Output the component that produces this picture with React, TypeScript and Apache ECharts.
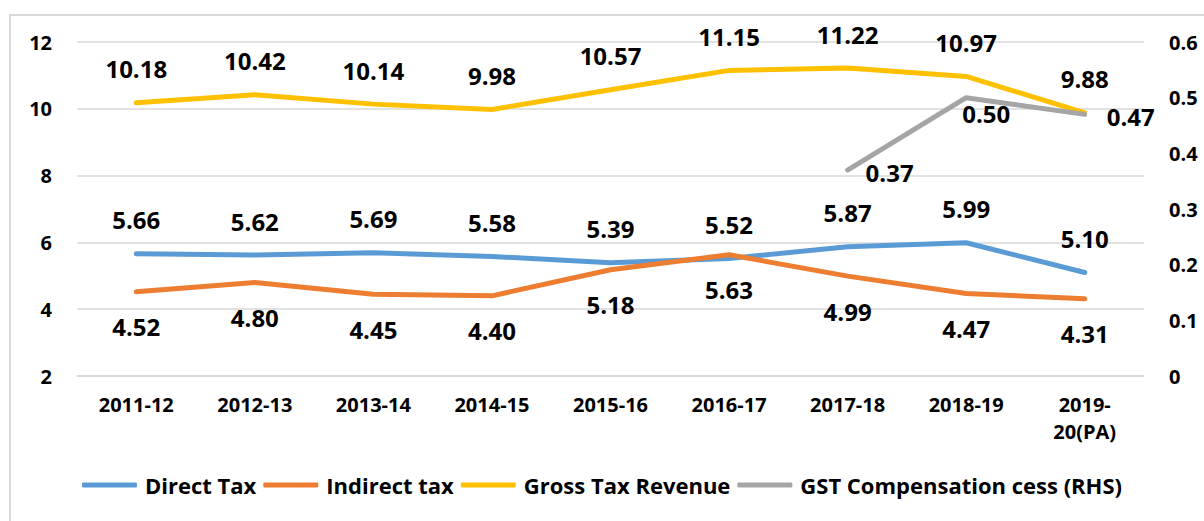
import React, { useEffect, useRef } from "react";
import * as echarts from "echarts";

const categories = ["2011-12", "2012-13", "2013-14", "2014-15", "2015-16", "2016-17", "2017-18", "2018-19", "2019-\n20(PA)"];
const directTax = [5.66, 5.62, 5.69, 5.58, 5.39, 5.52, 5.87, 5.99, 5.10];
const indirectTax = [4.52, 4.80, 4.45, 4.40, 5.18, 5.63, 4.99, 4.47, 4.31];
const grossTax = [10.18, 10.42, 10.14, 9.98, 10.57, 11.15, 11.22, 10.97, 9.88];
const gstCess: (number | null)[] = [null, null, null, null, null, null, 0.37, 0.50, 0.47];
const leftTicks = { min: 2, max: 12, interval: 2 };
const rightTicks = { min: 0, max: 0.6, interval: 0.1 };

const FONT = "Open Sans";

export default function App() {
  const ref = useRef<HTMLDivElement>(null);
  useEffect(() => {
    document.body.style.margin = "0";
    if (!ref.current) return;
    const chart = echarts.init(ref.current, undefined, { renderer: "svg" });
    const labelBase = {
      show: true,
      fontFamily: FONT,
      fontWeight: "bold" as const,
      fontSize: 24,
      color: "#000",
      formatter: (p: any) => (p.value == null ? "" : Number(p.value).toFixed(2)),
    };
    const gstLabelCfg: Record<number, any> = {
      6: { position: "right", distance: 18, offset: [0, 2] },
      7: { position: "bottom", distance: 4, offset: [20, 0] },
      8: { position: "right", distance: 22, offset: [0, 2] },
    };
    const gstData = gstCess.map((v, i) =>
      v == null ? null : { value: v, label: gstLabelCfg[i] || {} }
    );
    const lineStyle = (c: string) => ({ color: c, width: 5, cap: "round" as const, join: "round" as const });
    chart.setOption({
      animation: false,
      backgroundColor: "#fff",
      textStyle: { fontFamily: FONT },
      grid: { left: 77, right: 60, top: 42, bottom: 145, containLabel: false },
      graphic: [
        {
          type: "rect",
          shape: { x: 10, y: 15, width: 1210, height: 530 },
          style: { fill: "none", stroke: "#d9d9d9", lineWidth: 2 },
          silent: true,
        },
      ],
      legend: {
        bottom: 20,
        left: "center",
        icon: "roundRect",
        itemWidth: 55,
        itemHeight: 5,
        itemGap: 7,
        textStyle: { fontFamily: FONT, fontWeight: "bold", fontSize: 22, color: "#000", padding: [0, 0, 0, 3] },
        data: ["Direct Tax", "Indirect tax", "Gross Tax Revenue", "GST Compensation cess (RHS)"],
      },
      xAxis: {
        type: "category",
        data: categories,
        boundaryGap: true,
        axisLine: { lineStyle: { color: "#d9d9d9", width: 1.5 } },
        axisTick: { show: false },
        axisLabel: {
          fontFamily: FONT,
          fontWeight: "bold",
          fontSize: 20,
          color: "#000",
          margin: 15,
          lineHeight: 27,
          interval: 0,
        },
      },
      yAxis: [
        {
          type: "value",
          ...leftTicks,
          axisLine: { show: false },
          axisTick: { show: false },
          splitLine: { lineStyle: { color: "#d9d9d9", width: 1.5 } },
          axisLabel: { fontFamily: FONT, fontWeight: "bold", fontSize: 20, color: "#000", margin: 25 },
        },
        {
          type: "value",
          ...rightTicks,
          axisLine: { show: false },
          axisTick: { show: false },
          splitLine: { show: false },
          axisLabel: {
            fontFamily: FONT,
            fontWeight: "bold",
            fontSize: 20,
            color: "#000",
            margin: 25,
            formatter: (v: number) => String(Math.round(v * 10) / 10),
          },
        },
      ],
      series: [
        {
          name: "Direct Tax",
          type: "line",
          data: directTax,
          symbol: "circle",
          symbolSize: 0,
          itemStyle: { color: "#5B9BD5" },
          lineStyle: lineStyle("#5B9BD5"),
          label: { ...labelBase, position: "top", distance: 22 },
        },
        {
          name: "Indirect tax",
          type: "line",
          data: indirectTax,
          symbol: "circle",
          symbolSize: 0,
          itemStyle: { color: "#ED7D31" },
          lineStyle: lineStyle("#ED7D31"),
          label: { ...labelBase, position: "bottom", distance: 23 },
        },
        {
          name: "Gross Tax Revenue",
          type: "line",
          data: grossTax,
          symbol: "circle",
          symbolSize: 0,
          itemStyle: { color: "#FFC000" },
          lineStyle: lineStyle("#FFC000"),
          label: { ...labelBase, position: "top", distance: 22 },
        },
        {
          name: "GST Compensation cess (RHS)",
          type: "line",
          yAxisIndex: 1,
          data: gstData,
          symbol: "circle",
          symbolSize: 0,
          itemStyle: { color: "#A5A5A5" },
          lineStyle: lineStyle("#A5A5A5"),
          label: { ...labelBase },
        },
      ],
    });
    return () => chart.dispose();
  }, []);
  return <div ref={ref} style={{ width: 1204, height: 521 }} />;
}
